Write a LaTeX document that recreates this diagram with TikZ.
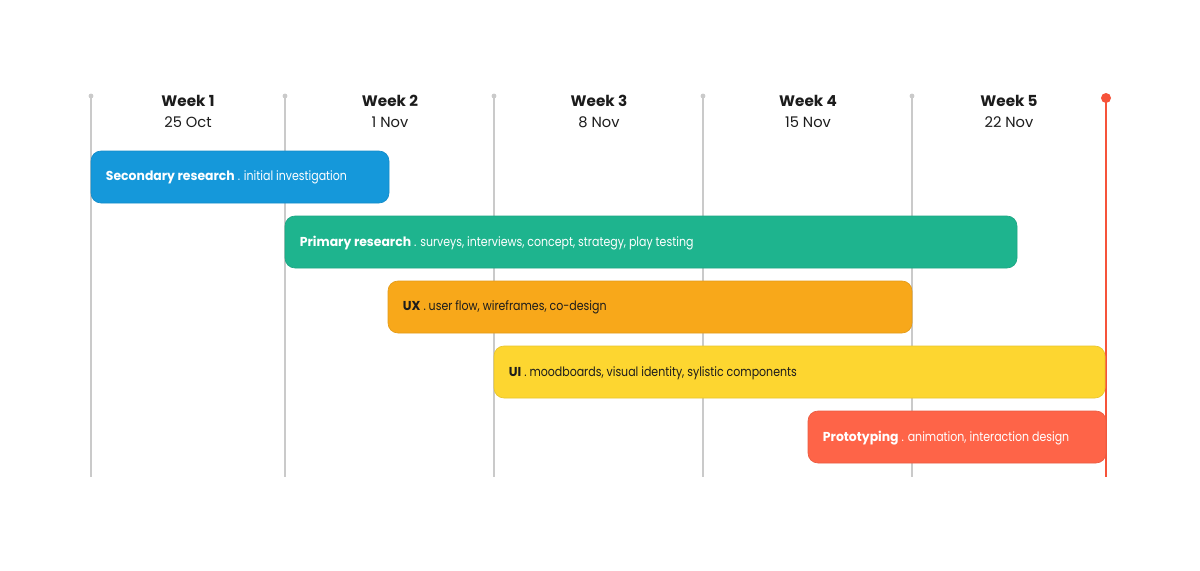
\documentclass[tikz,border=0pt]{standalone}
\usepackage{fontspec}
\setmainfont{Poppins}
% narrower cuts of the main face for the task labels
\newfontfamily\taskreg{Poppins}[FakeStretch=0.85]
\newfontfamily\taskbf{Poppins}[FakeStretch=0.96]
\newcommand{\taskname}[1]{{\taskbf\bfseries #1}}
\definecolor{gridgray}{HTML}{CACACA}
\definecolor{nowred}{HTML}{F6533A}
\definecolor{c1}{HTML}{1598DA}
\definecolor{c2}{HTML}{1EB48E}
\definecolor{c3}{HTML}{F8A81A}
\definecolor{c4}{HTML}{FDD630}
\definecolor{c5}{HTML}{FE6448}
\definecolor{ink}{HTML}{1C1C1C}
\begin{document}
\begin{tikzpicture}[x=0.75pt,y=-0.75pt,
  gridline/.style={draw=gridgray, line width=1.1pt},
  weekname/.style={font=\fontsize{11.4}{13}\selectfont\bfseries, text=ink, inner sep=0pt},
  weekdate/.style={font=\fontsize{11}{13}\selectfont, text=ink, inner sep=0pt},
  bar/.style={rounded corners=7.5pt, fill=#1, draw=#1!92!black, line width=0.5pt,
    minimum height=39pt, inner sep=0pt},
  tasktext/.style={anchor=west, inner sep=0pt, font=\fontsize{9.7}{12}\selectfont\taskreg}
]
\useasboundingbox (0,0) rectangle (1200,571);
\fill[white] (0,0) rectangle (1200,571);

% week grid lines with a dot on top
\foreach \i/\x in {1/91,2/285,3/494,4/703,5/912}{
  \coordinate (g\i t) at (\x,96);
  \coordinate (g\i b) at (\x,477);
  \draw[gridline] (g\i t) -- (g\i b);
  \fill[gridgray] (g\i t) circle (2.4);
}
% current-day marker
\coordinate (nowt) at (1106,98);
\coordinate (nowb) at (1106,477);
\draw[draw=nowred, line width=1.6pt] (nowt) -- (nowb);
\fill[nowred] (nowt) circle (5);

% week headers
\foreach \i/\x/\d in {1/188/25 Oct,2/390/1 Nov,3/599/8 Nov,4/808/15 Nov,5/1009/22 Nov}{
  \node[weekname] (w\i) at (\x,101) {Week \i};
  \node[weekdate] (d\i) at (\x,122) {\d};
}

% task bars
\node[bar=c1, minimum width=223.5pt] (b1) at (240,177) {};
\node[tasktext, text=white] (t1) at ([xshift=11.25pt,yshift=-0.6pt]b1.west)
  {\taskname{Secondary research} . initial investigation};

\node[bar=c2, minimum width=549pt] (b2) at (651,242) {};
\node[tasktext, text=white] (t2) at ([xshift=11.25pt,yshift=-0.6pt]b2.west)
  {\taskname{Primary research} . surveys, interviews, concept, strategy, play testing};

\node[bar=c3, minimum width=393pt] (b3) at (650,307) {};
\node[tasktext, text=ink] (t3) at ([xshift=11.25pt,yshift=-0.6pt]b3.west)
  {\taskname{UX} . user flow, wireframes, co-design};

\node[bar=c4, minimum width=458.25pt] (b4) at (799.5,372) {};
\node[tasktext, text=ink] (t4) at ([xshift=11.25pt,yshift=-0.6pt]b4.west)
  {\taskname{UI} . moodboards, visual identity, sylistic components};

\node[bar=c5, minimum width=223.5pt] (b5) at (957,437) {};
\node[tasktext, text=white] (t5) at ([xshift=11.25pt,yshift=-0.6pt]b5.west)
  {\taskname{Prototyping} . animation, interaction design};
\end{tikzpicture}
\end{document}
